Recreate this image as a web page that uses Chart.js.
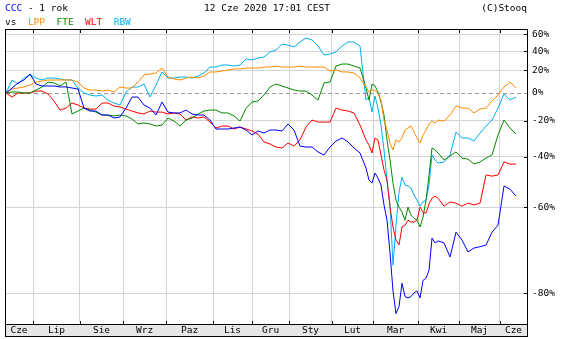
<!DOCTYPE html>
<html>
<head>
<meta charset="utf-8">
<script src="https://cdn.jsdelivr.net/npm/chart.js@4.4.1/dist/chart.umd.min.js"></script>
<style>
  html, body { margin: 0; padding: 0; background: #fff; }
  #chart { width: 570px; height: 339px; }
</style>
</head>
<body>
<div id="chart"><canvas id="c" width="570" height="339"></canvas></div>
<script>
// change vs. 12 Jun 2019, in percent
// one sample every ~3 sessions, half steps through the March crash
const t = [];
for (let i = 0; i < 60; i++) t.push(i);
for (let i = 60; i <= 72; i += 0.5) t.push(i);
for (let i = 73; i <= 85; i++) t.push(i);

const ccc = [
  0, 4.1, 8.4, 11.0, 16.5, 7.5, 5.8, 5.8, 5.8, 5.0, 5.0, 4.1, 3.3, -11.4, -13.5, -13.5, -16.2, -16.2, -18.2, -17.5,
  -11.4, -3.2, -3.2, -9.2, -11.4, -16.2, -7.0, -14.2, -14.8, -14.8, -12.8, -15.5, -16.2, -16.2, -19.5, -25.1, -25.1, -25.1, -24.5, -23.9,
  -25.7, -28.6, -26.3, -27.5, -25.7, -25.7, -26.3, -22.0, -25.7, -34.7, -35.2, -35.2, -37.7, -39.2, -35.2, -32.0, -30.3, -32.5, -35.7, -38.2,
  -45.3, -50.3, -51.5, -47.4, -49.5, -52.3, -59.3, -64.0, -72.3, -79.6, -83.0, -82.0, -78.3, -80.5, -80.7, -80.5, -79.9, -79.6, -80.7, -77.8, -77.4, -75.9, -68.8, -70.0, -69.5,
  -70.0, -73.2, -67.3, -69.3, -72.1, -71.2, -70.9, -70.5, -67.3, -65.4, -52.6, -53.8, -56.3
];
const lpp = [
  0, 3.3, 4.1, 4.9, 6.6, 9.2, 10.1, 11.0, 11.0, 11.0, 11.0, 11.0, 9.2, 4.1, 2.4, 2.4, 1.6, 2.4, 0.8, 4.9,
  4.1, 4.1, 9.2, 15.6, 16.5, 17.4, 22.2, 13.7, 11.9, 11.0, 12.8, 13.7, 12.8, 14.6, 18.4, 18.4, 19.3, 20.3, 21.3, 21.3,
  22.2, 22.2, 22.2, 23.2, 23.2, 24.2, 23.2, 23.2, 23.2, 24.2, 23.2, 23.2, 23.2, 23.2, 19.3, 20.3, 18.4, 18.4, 17.4, 12.8,
  4.9, 0.8, 2.4, 2.4, -0.8, -5.5, -19.5, -25.7, -33.1, -36.7, -31.4, -32.5, -30.3, -25.7, -24.5, -23.3, -26.9, -30.3, -33.1, -28.6, -25.7, -22.0, -20.2, -21.4, -19.5,
  -20.2, -16.2, -9.9, -11.4, -11.4, -14.8, -12.1, -11.4, -6.2, -1.6, 4.9, 9.2, 4.1
];
const fte = [
  0, 0.8, 0.8, 0, 0, 2.4, 4.9, 9.2, 8.4, 5.8, 9.2, -15.5, -13.5, -11.4, -12.8, -14.2, -16.2, -16.2, -16.8, -16.2,
  -16.8, -18.8, -22.0, -21.4, -22.0, -23.3, -22.7, -18.2, -20.2, -23.3, -19.5, -18.2, -15.5, -13.5, -12.8, -12.8, -14.8, -14.8, -16.8, -20.2,
  -11.4, -7.0, -6.2, -1.6, 4.9, 7.5, 5.8, 4.1, 2.4, 1.6, 1.6, -1.6, -5.5, 8.4, 9.2, 24.2, 26.2, 26.2, 24.2, 22.2,
  4.1, -5.5, 7.5, 5.8, 0.8, -7.0, -16.2, -31.4, -41.6, -51.5, -57.7, -60.0, -61.6, -64.0, -60.0, -62.5, -63.4, -64.0, -65.9, -63.1, -57.7, -48.2, -35.7, -36.7, -38.2,
  -41.6, -39.7, -37.7, -40.7, -41.2, -43.5, -42.5, -40.7, -39.2, -28.6, -19.5, -24.5, -28.1
];
const wlt = [
  0, -3.2, 0, 0, 0, 1.6, 1.6, -0.8, -6.2, -12.8, -11.4, -7.7, -9.2, -11.4, -12.1, -12.1, -7.7, -7.7, -9.9, -10.6,
  -12.1, -13.5, -14.8, -15.5, -13.5, -14.2, -14.2, -15.5, -14.8, -15.5, -19.5, -17.5, -18.2, -17.5, -20.8, -24.5, -23.3, -23.3, -25.1, -23.9,
  -25.1, -26.3, -28.1, -32.5, -33.6, -35.2, -35.7, -33.1, -34.7, -31.4, -23.9, -19.5, -20.8, -20.8, -20.8, -11.4, -12.8, -13.5, -14.8, -22.7,
  -31.4, -34.1, -38.2, -30.3, -31.4, -39.2, -46.1, -50.3, -60.0, -65.9, -69.3, -70.5, -65.9, -65.4, -64.0, -64.5, -64.5, -64.0, -60.0, -61.6, -61.9, -59.0, -57.0, -56.3, -57.0,
  -59.7, -58.3, -58.7, -59.7, -58.7, -59.3, -58.7, -48.2, -48.7, -48.2, -42.5, -43.5, -43.5
];
const rbw = [
  0, 11.0, 7.5, 12.8, 15.6, 12.8, 11.0, 12.8, 12.8, 11.9, 11.0, 11.0, 4.1, 0, -1.6, -2.4, -1.6, -5.5, -7.7, -9.2,
  0.8, 4.9, 4.9, 7.5, -3.2, 6.6, 18.4, 12.8, 12.8, 13.7, 13.7, 12.8, 14.6, 17.4, 23.2, 23.2, 25.2, 25.2, 24.2, 25.2,
  31.4, 30.4, 32.5, 33.5, 39.0, 41.2, 48.2, 47.0, 44.7, 50.6, 55.6, 53.1, 45.9, 35.7, 36.8, 39.0, 45.9, 50.6, 50.6, 45.9,
  -5.5, -3.2, -14.2, -2.4, -11.4, -22.7, -36.7, -50.3, -59.3, -74.9, -65.4, -54.9, -49.1, -52.3, -52.6, -53.4, -55.9, -57.7, -59.7, -58.3, -57.7, -52.3, -39.2, -41.6, -43.0,
  -42.5, -39.2, -26.9, -30.3, -30.3, -32.0, -27.5, -23.3, -19.5, -11.4, -0.8, -5.5, -3.2
];

const names = ['CCC', 'LPP', 'FTE', 'WLT', 'RBW'];
const colors = ['#0000ff', '#ff8c00', '#008c00', '#ff0000', '#00b0f0'];

const yTicks = [60, 40, 20, 0, -20, -40, -60, -80];
const months = ['Cze', 'Lip', 'Sie', 'Wrz', 'Paz', 'Lis', 'Gru', 'Sty', 'Lut', 'Mar', 'Kwi', 'Maj', 'Cze'];
// first day of each month, same units as t
const monthEdges = [4.5, 12.33, 19.5, 26.67, 34.5, 41, 47.17, 54.33, 61.17, 68.67, 75.5, 82.33];
const xMin = 0, xMax = 86.83;

// x ticks: month edges (grid lines) + month centres (labels)
const bounds = [xMin - 0.17, ...monthEdges, xMax];
const xTicks = [], xLabels = [];
months.forEach((m, i) => {
  if (i > 0) { xTicks.push(bounds[i]); xLabels.push(''); }
  xTicks.push((bounds[i] + bounds[i + 1]) / 2); xLabels.push(m);
});

Chart.defaults.font.family = '"DejaVu Sans Mono", monospace';
Chart.defaults.font.size = 9.5;
Chart.defaults.color = '#000';

const series = [ccc, lpp, fte, wlt, rbw];

const frame = {
  id: 'frame',
  beforeDraw(chart) {
    const ctx = chart.ctx;
    ctx.save();
    ctx.fillStyle = '#fff';
    ctx.fillRect(0, 0, chart.width, chart.height);
    ctx.fillStyle = '#e6e6e6';
    ctx.fillRect(6, 325, 521, 11);
    ctx.restore();
  },
  beforeDatasetsDraw(chart) {
    const { ctx, chartArea: a, scales: { y } } = chart;
    const py = Math.round(y.getPixelForValue(1)) + 0.5;
    ctx.save();
    ctx.strokeStyle = '#999';
    ctx.lineWidth = 1;
    ctx.setLineDash([4, 3]);
    ctx.beginPath();
    ctx.moveTo(a.left, py);
    ctx.lineTo(a.right, py);
    ctx.stroke();
    ctx.restore();
  },
  afterDraw(chart) {
    const { ctx, scales: { x, y } } = chart;
    ctx.save();
    ctx.strokeStyle = '#000';
    ctx.lineWidth = 1;
    ctx.strokeRect(5.5, 29.5, 522, 307);
    ctx.beginPath();
    ctx.moveTo(5.5, 324.5);
    ctx.lineTo(527.5, 324.5);
    monthEdges.forEach(m => {
      const px = Math.round(x.getPixelForValue(m)) + 0.5;
      ctx.moveTo(px, 30); ctx.lineTo(px, 33);
      ctx.moveTo(px, 321); ctx.lineTo(px, 324);
    });
    yTicks.forEach(v => {
      if (v === 0) return;
      const py = Math.round(y.getPixelForValue(1 + v / 100)) + 0.5;
      ctx.moveTo(524, py); ctx.lineTo(527, py);
    });
    ctx.stroke();

    // header
    ctx.font = '9.5px "DejaVu Sans Mono", monospace';
    ctx.textBaseline = 'alphabetic';
    const run = (x0, y0, parts) => {
      let px = x0;
      parts.forEach(([s, c]) => {
        ctx.fillStyle = c;
        ctx.fillText(s, px, y0);
        px += ctx.measureText(s).width;
      });
    };
    run(5, 11, [[names[0], colors[0]], [' - 1 rok', '#000']]);
    ctx.fillStyle = '#000';
    ctx.textAlign = 'center';
    ctx.fillText('12 Cze 2020 17:01 CEST', 267, 11);
    ctx.textAlign = 'right';
    ctx.fillText('(C)Stooq', 527, 11);
    ctx.textAlign = 'left';
    const parts = [['vs', '#000']];
    names.slice(1).forEach((n, i) => { parts.push(['  ', '#000']); parts.push([n, colors[i + 1]]); });
    run(5, 25, parts);
    ctx.restore();
  }
};

new Chart(document.getElementById('c'), {
  type: 'line',
  data: {
    datasets: series.map((s, k) => ({
      label: names[k],
      data: s.map((p, i) => ({ x: t[i], y: 1 + p / 100 })),
      borderColor: colors[k],
      borderWidth: 1,
      pointRadius: 0,
      tension: 0,
      fill: false
    }))
  },
  options: {
    responsive: false,
    animation: false,
    events: [],
    layout: { padding: { top: 29, left: 6, right: 0, bottom: 0 } },
    plugins: { legend: { display: false }, tooltip: { enabled: false } },
    scales: {
      x: {
        type: 'linear', min: xMin, max: xMax,
        afterBuildTicks: s => { s.ticks = xTicks.map(v => ({ value: v })); },
        afterFit: s => { s.height = 17; },
        grid: {
          drawTicks: false,
          color: c => (xLabels[c.index] ? 'rgba(0,0,0,0)' : '#d4d4d4')
        },
        border: { display: false },
        ticks: { autoSkip: false, maxRotation: 0, padding: 3, callback: (v, i) => xLabels[i] }
      },
      y: {
        type: 'logarithmic', position: 'right', min: 0.159, max: 1.672,
        afterBuildTicks: s => { s.ticks = yTicks.map(v => ({ value: 1 + v / 100 })); },
        afterFit: s => { s.width = 43; },
        grid: {
          drawTicks: false,
          color: c => (c.tick && Math.abs(c.tick.value - 1) < 1e-6 ? 'rgba(0,0,0,0)' : '#d4d4d4')
        },
        border: { display: false },
        ticks: { padding: 5, callback: v => Math.round((v - 1) * 100) + '%' }
      }
    }
  },
  plugins: [frame]
});
</script>
</body>
</html>
